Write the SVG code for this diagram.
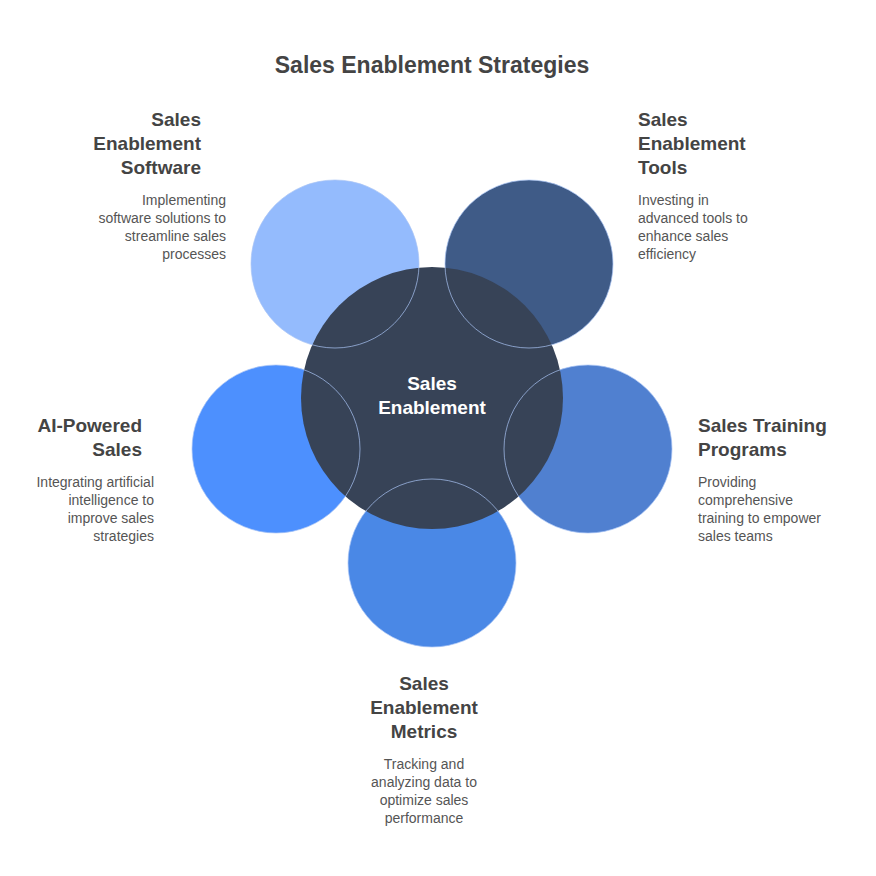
<svg xmlns="http://www.w3.org/2000/svg" width="876" height="876" viewBox="0 0 876 876">
<style>
text{font-family:"Liberation Sans",Arial,sans-serif;fill:#444}
.t{font-size:19px;font-weight:bold}
.d{font-size:14px;fill:#555}
.o{fill:none;stroke:#a9c4f5;stroke-width:1;opacity:0.7}
</style>
<rect width="876" height="876" fill="#fff"/>
<text x="432" y="73" text-anchor="middle" style="font-size:23px;font-weight:bold">Sales Enablement Strategies</text>
<g id="nodes">
<g id="software"><circle cx="335" cy="264" r="84" fill="#94bbfd"/></g>
<g id="tools"><circle cx="529" cy="264" r="84" fill="#3f5b87"/></g>
<g id="training"><circle cx="588" cy="449" r="84" fill="#5080d0"/></g>
<g id="metrics"><circle cx="432" cy="563" r="84" fill="#4a88e6"/></g>
<g id="ai"><circle cx="276" cy="449" r="84" fill="#4d90fe"/></g>
<g id="center"><circle cx="432" cy="398" r="131" fill="#374357"/>
<text x="432" y="390" text-anchor="middle" class="t" style="fill:#fff">Sales</text>
<text x="432" y="414" text-anchor="middle" class="t" style="fill:#fff">Enablement</text></g>
</g>
<g id="connectors">
<circle class="o" cx="335" cy="264" r="84"/>
<circle class="o" cx="529" cy="264" r="84"/>
<circle class="o" cx="588" cy="449" r="84"/>
<circle class="o" cx="432" cy="563" r="84"/>
<circle class="o" cx="276" cy="449" r="84"/>
</g>
<g id="labels">
<g text-anchor="end">
<text x="201" y="126" class="t">Sales</text><text x="201" y="150" class="t">Enablement</text><text x="201" y="174" class="t">Software</text>
<text x="226" y="205" class="d">Implementing</text><text x="226" y="223" class="d">software solutions to</text><text x="226" y="241" class="d">streamline sales</text><text x="226" y="259" class="d">processes</text>
<text x="142" y="432" class="t">AI-Powered</text><text x="142" y="456" class="t">Sales</text>
<text x="154" y="487" class="d">Integrating artificial</text><text x="154" y="505" class="d">intelligence to</text><text x="154" y="523" class="d">improve sales</text><text x="154" y="541" class="d">strategies</text>
</g>
<text x="638" y="126" class="t">Sales</text><text x="638" y="150" class="t">Enablement</text><text x="638" y="174" class="t">Tools</text>
<text x="638" y="205" class="d">Investing in</text><text x="638" y="223" class="d">advanced tools to</text><text x="638" y="241" class="d">enhance sales</text><text x="638" y="259" class="d">efficiency</text>
<text x="698" y="432" class="t">Sales Training</text><text x="698" y="456" class="t">Programs</text>
<text x="698" y="487" class="d">Providing</text><text x="698" y="505" class="d">comprehensive</text><text x="698" y="523" class="d">training to empower</text><text x="698" y="541" class="d">sales teams</text>
<g text-anchor="middle">
<text x="424" y="690" class="t">Sales</text><text x="424" y="714" class="t">Enablement</text><text x="424" y="738" class="t">Metrics</text>
<text x="424" y="769" class="d">Tracking and</text><text x="424" y="787" class="d">analyzing data to</text><text x="424" y="805" class="d">optimize sales</text><text x="424" y="823" class="d">performance</text>
</g>
</g>
</svg>
